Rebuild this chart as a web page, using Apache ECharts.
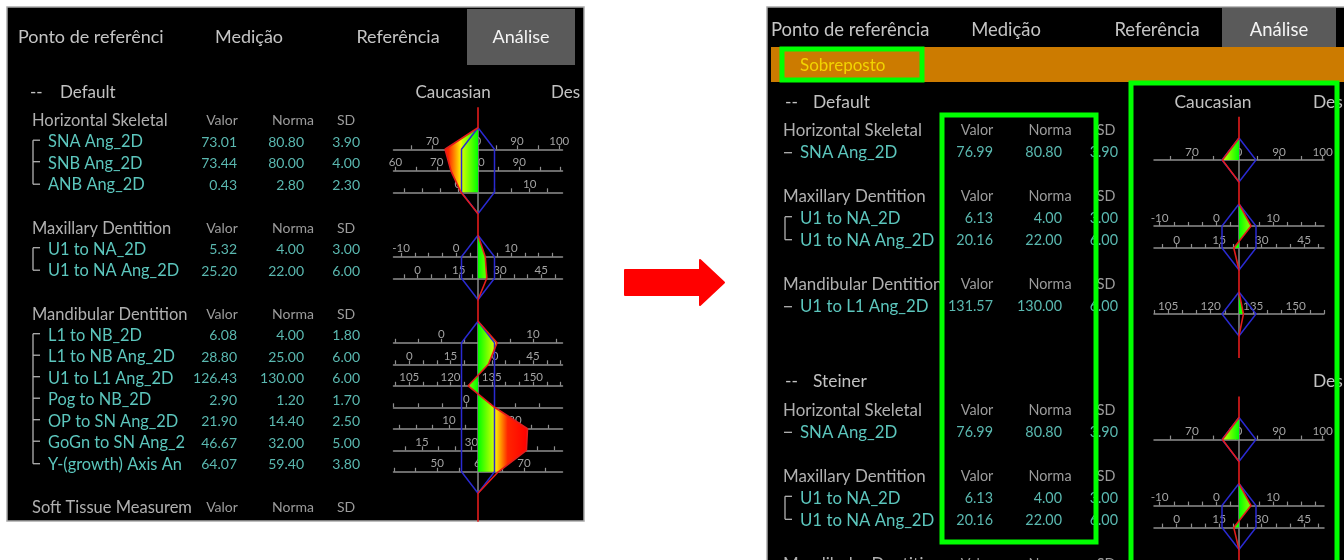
<!DOCTYPE html>
<html><head><meta charset="utf-8"><title>Análise</title>
<script src="https://cdn.jsdelivr.net/npm/echarts@6.0.0/dist/echarts.min.js"></script>
<style>html,body{margin:0;padding:0;background:#fff;}#chart{width:1344px;height:560px;}</style>
</head><body><div id="chart"></div>
<script>
// ================= DATA =================
const tabLabels = ['Ponto de referência', 'Medição', 'Referência', 'Análise'];
const columnHeaders = ['Valor', 'Norma', 'SD'];
const bannerLabel = 'Sobreposto';

// ---- left screenshot (before) ----
const leftSections = ['Default'];
const leftSectionScales = [['Caucasian', 'Desvio']];
const leftGroupNames = ['Horizontal Skeletal', 'Maxillary Dentition', 'Mandibular Dentition', 'Soft Tissue Measurements'];
const leftGroupSection = [0, 0, 0, 0];
const leftRowNames = ['SNA Ang_2D', 'SNB Ang_2D', 'ANB Ang_2D', 'U1 to NA_2D', 'U1 to NA Ang_2D',
  'L1 to NB_2D', 'L1 to NB Ang_2D', 'U1 to L1 Ang_2D', 'Pog to NB_2D', 'OP to SN Ang_2D',
  'GoGn to SN Ang_2D', 'Y-(growth) Axis Ang_2D'];
const leftRowGroup = [0, 0, 0, 1, 1, 2, 2, 2, 2, 2, 2, 2];
const leftValor = [73.01, 73.44, 0.43, 5.32, 25.20, 6.08, 28.80, 126.43, 2.90, 21.90, 46.67, 64.07];
const leftNorma = [80.80, 80.00, 2.80, 4.00, 22.00, 4.00, 25.00, 130.00, 1.20, 14.40, 32.00, 59.40];
const leftSD = [3.90, 4.00, 2.30, 3.00, 6.00, 1.80, 6.00, 6.00, 1.70, 2.50, 5.00, 3.80];
const leftTickLabels = [[70, 80, 90, 100], [60, 70, 80, 90], [0, 10], [-10, 0, 10], [0, 15, 30, 45],
  [0, 10], [0, 15, 30, 45], [105, 120, 135, 150], [0], [10, 20], [15, 30, 45], [50, 60, 70]];
const leftTickStep = [5, 5, 2.5, 2.5, 5, 2.5, 5, 5, 2.5, 2.5, 5, 5];

// ---- right screenshot (after, Sobreposto) ----
const rightSections = ['Default', 'Steiner'];
const rightSectionScales = [['Caucasian', 'Desvio'], ['', 'Desvio']];
const rightGroupNames = ['Horizontal Skeletal', 'Maxillary Dentition', 'Mandibular Dentition',
  'Horizontal Skeletal', 'Maxillary Dentition', 'Mandibular Dentition'];
const rightGroupSection = [0, 0, 0, 1, 1, 1];
const rightRowNames = ['SNA Ang_2D', 'U1 to NA_2D', 'U1 to NA Ang_2D', 'U1 to L1 Ang_2D',
  'SNA Ang_2D', 'U1 to NA_2D', 'U1 to NA Ang_2D'];
const rightRowGroup = [0, 1, 1, 2, 3, 4, 4];
const rightValor = [76.99, 6.13, 20.16, 131.57, 76.99, 6.13, 20.16];
const rightNorma = [80.80, 4.00, 22.00, 130.00, 80.80, 4.00, 22.00];
const rightSD = [3.90, 3.00, 6.00, 6.00, 3.90, 3.00, 6.00];
const rightTickLabels = [[70, 80, 90, 100], [-10, 0, 10], [0, 15, 30, 45], [105, 120, 135, 150],
  [70, 80, 90, 100], [-10, 0, 10], [0, 15, 30, 45]];
const rightTickStep = [5, 2.5, 5, 5, 5, 2.5, 5];

// ================= LAYOUT / STYLE =================
const FONT = 'Lato, "Noto Sans", "DejaVu Sans", sans-serif';
const C = {
  tab: '#c4c4c4', tabSel: '#f4f4f4', tabBox: '#5a5a5a', title: '#c2c2c2', header: '#b0b0b0',
  colHead: '#9c9c9c', row: '#5cc6bd', val: '#5ab8b0', bracket: '#b2b2b2', axis: '#8e8e8e',
  axisLabel: '#a2a2a2', blue: '#2a2ad2', red: '#e41c1c', center: '#8a8a8a',
  band: '#cc7b00', bandText: '#f2d400', green: '#00ff00', arrow: '#ff0000', border: '#a9a9a9'
};
const FS = { tab: 18, title: 17, header: 16.5, colHead: 14, row: 16.4, val: 14, axis: 11.5, banner: 17 };
const leftPanel = {
  box: [7, 7, 577, 514], tabY: 37, tabBox: [467, 9, 108, 56], tabX: [18, 249, 398, 521], tabW: 155,
  slot0: 120.7, sp: 21.5, titleSlot0: -1.3, f: 1,
  dashX: 30, titleX: 60, caucX: 453, desX: 551, desW: 32,
  hx: 32, hW: 162, rx: 48, rW: 142, brx: 33, colC: [222, 293, 346], valR: [237, 304, 360],
  cx: 478, half: 84.5, sdPx: 16.5
};
const rightPanel = {
  box: [767, 7, 600, 580], tabY: 30, tabBox: [1222, 8, 114, 39], tabX: [771, 1006, 1157, 1279], tabW: 160,
  banner: [771, 47, 580, 35], bannerText: [800, 66],
  slot0: 130.7, sp: 22, titleSlot0: -1.3, f: 1.025,
  dashX: 785, titleX: 813, caucX: 1213, desX: 1313, desW: 33,
  hx: 783, hW: 200, rx: 800, rW: 150, brx: 785, colC: [977, 1050, 1106], valR: [993, 1062, 1118],
  cx: 1239, half: 85, sdPx: 17
};

const graphic = [], grid = [], xAxis = [], yAxis = [], series = [];

function text(x, y, str, o) {
  o = o || {};
  const st = {
    text: str, fill: o.color || '#bdbdbd', font: (o.fs || 15) + 'px ' + FONT,
    textAlign: o.align || 'left', textVerticalAlign: 'middle', align: o.align || 'left', verticalAlign: 'middle'
  };
  if (o.width) { st.width = o.width; st.overflow = 'truncate'; st.ellipsis = ''; }
  graphic.push({ type: 'text', x: x, y: y, z: o.z == null ? 5 : o.z, silent: true, style: st });
}
function line(x1, y1, x2, y2, color, w, z) {
  graphic.push({ type: 'line', z: z || 5, silent: true, shape: { x1, y1, x2, y2 }, style: { stroke: color, lineWidth: w || 1 } });
}
function rect(x, y, w, h, style, z) {
  graphic.push({ type: 'rect', z: z || 0, silent: true, shape: { x, y, width: w, height: h }, style });
}

// clip a polyline to one side of x = 0 (for the two-sided gradient fill)
function splitSide(pts, sign) {
  const out = [];
  for (let i = 0; i < pts.length; i++) {
    const p = pts[i];
    if (i > 0) {
      const q = pts[i - 1];
      if (q[0] * p[0] < 0) { const t = q[0] / (q[0] - p[0]); out.push([0, q[1] + t * (p[1] - q[1])]); }
    }
    out.push([sign > 0 ? Math.max(p[0], 0) : Math.min(p[0], 0), p[1]]);
  }
  return out;
}
const fillStops = [
  { offset: 0, color: '#00ff00' }, { offset: 0.333, color: '#d4ff00' }, { offset: 0.334, color: '#ffff00' },
  { offset: 0.46, color: '#ff9500' }, { offset: 0.6, color: '#ff2400' }, { offset: 1, color: '#ff0000' }
];

function buildPanel(P, D) {
  const Y = s => P.slot0 + s * P.sp;
  const f = P.f;
  const [bx, by, bw, bh] = P.box;
  rect(bx, by, bw, bh, { fill: '#000', stroke: C.border, lineWidth: 1.5 }, -10);
  rect(P.tabBox[0], P.tabBox[1], P.tabBox[2], P.tabBox[3], { fill: C.tabBox }, -9);
  text(P.tabX[0], P.tabY, tabLabels[0], { fs: FS.tab * f, color: C.tab, width: P.tabW });
  text(P.tabX[1], P.tabY, tabLabels[1], { fs: FS.tab * f, color: C.tab, align: 'center' });
  text(P.tabX[2], P.tabY, tabLabels[2], { fs: FS.tab * f, color: C.tab, align: 'center' });
  text(P.tabX[3], P.tabY, tabLabels[3], { fs: FS.tab * f, color: C.tabSel, align: 'center' });
  if (P.banner) {
    rect(P.banner[0], P.banner[1], P.banner[2], P.banner[3], { fill: C.band }, -9);
    text(P.bannerText[0], P.bannerText[1], bannerLabel, { fs: FS.banner, color: C.bandText });
  }

  // ---- slot layout ----
  let cursor = P.titleSlot0;
  const secs = [];
  D.sections.forEach((name, si) => {
    const sec = { name, si, titleSlot: cursor, groups: [] };
    cursor += 1.3;
    D.groupNames.forEach((gname, gi) => {
      if (D.groupSection[gi] !== si) return;
      const rows = [];
      D.rowGroup.forEach((g, ri) => { if (g === gi) rows.push(ri); });
      sec.groups.push({ gi, name: gname, slot: cursor, rows: rows.map((ri, k) => ({ ri, slot: cursor + 1 + k })) });
      cursor += rows.length + 2;
    });
    sec.endSlot = cursor;
    secs.push(sec);
    cursor += 1.41;
  });

  // ---- text table ----
  secs.forEach(sec => {
    const ty = Y(sec.titleSlot);
    text(P.dashX, ty, '--', { fs: FS.title * f, color: C.title });
    text(P.titleX, ty, sec.name, { fs: FS.title * f, color: C.title });
    const sc = D.sectionScales[sec.si];
    if (sc[0]) text(P.caucX, ty, sc[0], { fs: FS.title * f, color: C.title, align: 'center' });
    if (sc[1]) text(P.desX, ty, sc[1], { fs: FS.title * f, color: C.title, width: P.desW });
    sec.groups.forEach(g => {
      const gy = Y(g.slot);
      text(P.hx, gy, g.name, { fs: FS.header * f, color: C.header, width: P.hW });
      columnHeaders.forEach((h, k) => text(P.colC[k], gy, h, { fs: FS.colHead * f, color: C.colHead, align: 'center' }));
      g.rows.forEach((r, k) => {
        const ry = Y(r.slot);
        text(P.rx, ry, D.rowNames[r.ri], { fs: FS.row * f, color: C.row, width: P.rW });
        [D.valor[r.ri], D.norma[r.ri], D.sd[r.ri]].forEach((v, c) =>
          text(P.valR[c], ry, v.toFixed(2), { fs: FS.val * f, color: C.val, align: 'right' }));
      });
      const n = g.rows.length;
      if (n === 1) {
        line(P.brx - 1, Y(g.rows[0].slot), P.brx + 7, Y(g.rows[0].slot), C.bracket, 1.3);
      } else if (n > 1) {
        const y1 = Y(g.rows[0].slot) - 2, y2 = Y(g.rows[n - 1].slot) - 1;
        line(P.brx, y1, P.brx, y2, C.bracket, 1.3);
        g.rows.forEach((r, k) => {
          const yy = k === n - 1 ? y2 : Y(r.slot) - 2;
          line(P.brx, yy, P.brx + 7, yy, C.bracket, 1.3);
        });
      }
    });
  });

  // ---- per-row scales (one axis per measurement) ----
  const K = P.half / P.sdPx;
  secs.forEach(sec => sec.groups.forEach(g => g.rows.forEach(r => {
    const ri = r.ri, gIdx = grid.length;
    const ay = Y(r.slot + 0.33);
    const min = D.norma[ri] - K * D.sd[ri], max = D.norma[ri] + K * D.sd[ri];
    const step = D.tickStep[ri], ticks = [];
    for (let v = Math.ceil(min / step) * step; v <= max + 1e-9; v += step) ticks.push(+v.toFixed(4));
    grid.push({ left: P.cx - P.half, width: 2 * P.half, top: ay - 10, height: 10, containLabel: false });
    xAxis.push({
      gridIndex: gIdx, type: 'value', min, max, position: 'bottom',
      axisLine: { show: true, onZero: false, lineStyle: { color: C.axis, width: 1.5 } },
      axisTick: { show: true, inside: true, length: 4, customValues: ticks, lineStyle: { color: C.axis, width: 1.2 } },
      axisLabel: { show: true, inside: true, margin: 2, customValues: D.tickLabels[ri], color: C.axisLabel,
        fontSize: FS.axis * f, fontFamily: FONT, formatter: v => String(v) },
      splitLine: { show: false }
    });
    yAxis.push({ gridIndex: gIdx, type: 'value', min: 0, max: 1, show: false });
  })));

  // ---- diagram coordinate system: x = SD units, y = layout slots ----
  const dIdx = grid.length;
  const top = by, bottom = Math.min(by + bh, 560);
  grid.push({ left: P.cx - P.half, width: 2 * P.half, top: top, height: bottom - top });
  xAxis.push({ gridIndex: dIdx, type: 'value', min: -K, max: K, show: false });
  yAxis.push({ gridIndex: dIdx, type: 'value', inverse: true, min: (top - P.slot0) / P.sp, max: (bottom - P.slot0) / P.sp, show: false });
  const slotMax = (bottom - P.slot0) / P.sp;

  const diag = [];
  secs.forEach(sec => sec.groups.forEach(g => {
    if (!g.rows.length) return;
    const n = g.rows.length;
    diag.push({
      top: g.slot + 0.33, bottom: g.rows[n - 1].slot + 1.33,
      rows: g.rows.map(r => ({ axis: r.slot + 0.33, z: (D.valor[r.ri] - D.norma[r.ri]) / D.sd[r.ri] }))
    });
  }));

  series.push({
    type: 'custom', xAxisIndex: dIdx, yAxisIndex: dIdx, z: 3, clip: true, silent: true, animation: false,
    data: diag.map((g, i) => [0, g.top, i]), encode: { x: 0, y: 1 },
    renderItem: (params, api) => {
      const g = diag[api.value(2)];
      const c = p => api.coord(p);
      const children = [];
      const t = c([0, g.top]), b = c([0, g.bottom]);
      children.push({ type: 'line', shape: { x1: t[0], y1: t[1], x2: b[0], y2: b[1] }, style: { stroke: C.center, lineWidth: 1.5 } });
      const last = g.rows[g.rows.length - 1].axis;
      const path = [[0, g.top]].concat(g.rows.map(r => [r.z, r.axis]), [[0, last]]);
      [1, -1].forEach(sign => {
        const pts = splitSide(path, sign).map(c);
        const x1 = c([sign * 3, g.top])[0];
        children.push({ type: 'polygon', shape: { points: pts },
          style: { fill: { type: 'linear', x: t[0], y: 0, x2: x1, y2: 0, global: true, colorStops: fillStops } } });
      });
      const bl = [[0, g.top]].concat(g.rows.map(r => [-1, r.axis]), [[0, g.bottom]],
        g.rows.slice().reverse().map(r => [1, r.axis]), [[0, g.top]]).map(c);
      children.push({ type: 'polyline', shape: { points: bl }, style: { stroke: C.blue, lineWidth: 1.5, fill: null } });
      return { type: 'group', children };
    }
  });

  // red value trace, one continuous line per section
  secs.forEach(sec => {
    const pts = [[0, sec.titleSlot + 0.67]];
    let lastBottom = null, openEnd = false;
    sec.groups.forEach((g, k) => {
      if (!g.rows.length) { if (k === sec.groups.length - 1) openEnd = true; return; }
      pts.push([0, g.slot + 0.33]);
      g.rows.forEach(r => pts.push([(D.valor[r.ri] - D.norma[r.ri]) / D.sd[r.ri], r.slot + 0.33]));
      lastBottom = g.rows[g.rows.length - 1].slot + 1.33;
      pts.push([0, lastBottom]);
    });
    pts.push([0, openEnd ? slotMax + 1 : lastBottom + 1]);
    series.push({ type: 'line', xAxisIndex: dIdx, yAxisIndex: dIdx, data: pts, symbol: 'none', z: 4,
      clip: true, silent: true, animation: false, lineStyle: { color: C.red, width: 1.6 } });
  });
}

buildPanel(leftPanel, {
  sections: leftSections, sectionScales: leftSectionScales, groupNames: leftGroupNames, groupSection: leftGroupSection,
  rowNames: leftRowNames, rowGroup: leftRowGroup, valor: leftValor, norma: leftNorma, sd: leftSD,
  tickLabels: leftTickLabels, tickStep: leftTickStep
});
buildPanel(rightPanel, {
  sections: rightSections, sectionScales: rightSectionScales, groupNames: rightGroupNames, groupSection: rightGroupSection,
  rowNames: rightRowNames, rowGroup: rightRowGroup, valor: rightValor, norma: rightNorma, sd: rightSD,
  tickLabels: rightTickLabels, tickStep: rightTickStep
});

// highlight boxes and arrow (annotations)
const greenBoxes = [[782, 49, 140, 31], [942, 115, 154, 427], [1131, 83, 206, 500]];
greenBoxes.forEach(b => rect(b[0], b[1], b[2], b[3], { fill: null, stroke: C.green, lineWidth: 5 }, 50));
graphic.push({ type: 'polygon', z: 50, silent: true,
  shape: { points: [[625, 270], [700, 270], [700, 260], [724, 282.5], [700, 305], [700, 295], [625, 295]] },
  style: { fill: C.arrow, stroke: C.arrow, lineWidth: 2, lineJoin: 'round' } });

const chart = echarts.init(document.getElementById('chart'), null, { width: 1344, height: 560, renderer: 'canvas' });
chart.setOption({
  backgroundColor: '#ffffff', animation: false,
  grid, xAxis, yAxis, series, graphic: { elements: graphic }
});
</script></body></html>
